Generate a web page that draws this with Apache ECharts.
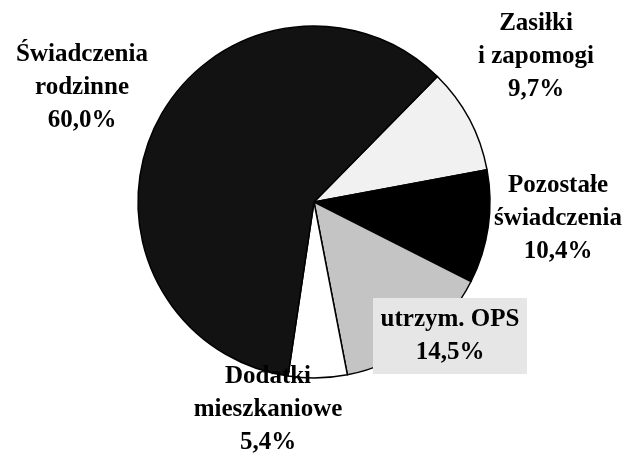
<!DOCTYPE html>
<html>
<head>
<meta charset="utf-8">
<style>
  html, body { margin: 0; padding: 0; background: #fff; }
  #chart { width: 629px; height: 453px; }
</style>
<script src="https://cdn.jsdelivr.net/npm/echarts@6/dist/echarts.min.js"></script>
</head>
<body>
<div id="chart"></div>
<script>
  var categories = [
    'Zasiłki\ni zapomogi',
    'Pozostałe\nświadczenia',
    'utrzym. OPS',
    'Dodatki\nmieszkaniowe',
    'Świadczenia\nrodzinne'
  ];
  var shares = [9.7, 10.4, 14.5, 5.4, 60.0];

  // fills (stipple averaged to flat grey)
  var fills = ['#f1f1f1', '#000000', '#c4c4c4', '#ffffff', '#121212'];
  // label centres
  var labelPos = [[536, 57], [558, 219], [450, 336], [268, 410], [82, 88]];

  var chart = echarts.init(document.getElementById('chart'));

  function pct(v) {
    return v.toFixed(1).replace('.', ',') + '%';
  }

  var data = categories.map(function (name, i) {
    var item = {
      name: name,
      value: shares[i],
      itemStyle: { color: fills[i] }
    };
    if (i === 2) {
      // stippled box behind the OPS label
      item.label = {
        backgroundColor: '#e6e6e6',
        width: 146,
        padding: [6, 4, 4, 4]
      };
    }
    return item;
  });

  chart.setOption({
    animation: false,
    backgroundColor: '#fff',
    series: [
      {
        type: 'pie',
        center: [314, 202],
        radius: 176,
        startAngle: 45.5,
        clockwise: true,
        data: data,
        itemStyle: {
          borderColor: '#000',
          borderWidth: 1.5
        },
        label: {
          show: true,
          position: 'outside',
          alignTo: 'none',
          overflow: 'none',
          formatter: function (p) {
            return p.name + '\n' + pct(p.value);
          },
          fontFamily: 'Liberation Serif',
          fontWeight: 'bold',
          fontSize: 25,
          lineHeight: 33,
          color: '#000',
          align: 'center'
        },
        labelLine: { show: false },
        labelLayout: function (params) {
          var p = labelPos[params.dataIndex];
          return {
            x: p[0],
            y: p[1],
            align: 'center',
            verticalAlign: 'middle',
            hideOverlap: false
          };
        },
        emphasis: { disabled: true }
      }
    ]
  });
</script>
</body>
</html>
